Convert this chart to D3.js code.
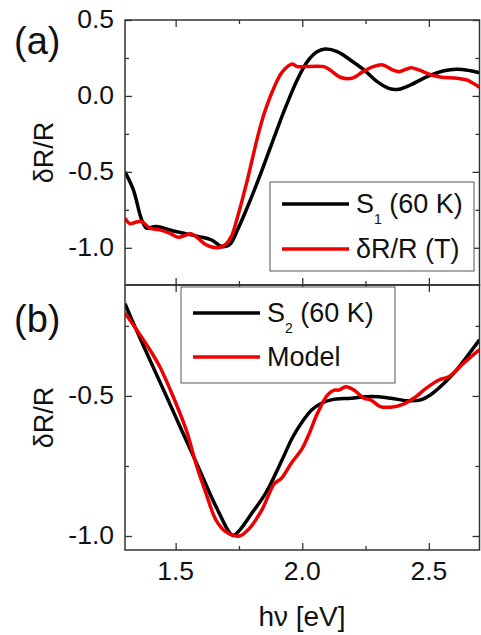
<!DOCTYPE html>
<html>
<head>
<meta charset="utf-8">
<script src="https://cdn.jsdelivr.net/npm/d3@7"></script>
<style>
  body { margin: 0; background: #fff; }
  text { font-family: "Liberation Sans", Arial, sans-serif; fill: #111; }
</style>
</head>
<body>
<svg width="481" height="635"></svg>
<script>
// panel (a): S1 at 60 K and the temperature dR/R
const s1Energy = [1.3, 1.333, 1.366, 1.385, 1.423, 1.5, 1.588, 1.64, 1.679, 1.699, 1.718, 1.745, 1.784, 1.837, 1.89, 1.93, 1.98, 2.02, 2.06, 2.092, 2.138, 2.19, 2.244, 2.296, 2.342, 2.381, 2.427, 2.493, 2.56, 2.61, 2.664, 2.7];
const s1Values = [-0.5, -0.618, -0.816, -0.87, -0.86, -0.893, -0.925, -0.947, -0.99, -0.99, -0.97, -0.88, -0.73, -0.507, -0.268, -0.092, 0.105, 0.226, 0.292, 0.309, 0.292, 0.237, 0.171, 0.094, 0.05, 0.044, 0.072, 0.127, 0.166, 0.176, 0.166, 0.153];

const tEnergy = [1.3, 1.32, 1.345, 1.366, 1.398, 1.437, 1.476, 1.51, 1.535, 1.56, 1.587, 1.62, 1.664, 1.696, 1.72, 1.745, 1.785, 1.824, 1.85, 1.89, 1.922, 1.961, 1.98, 2.007, 2.085, 2.11, 2.15, 2.195, 2.24, 2.28, 2.318, 2.357, 2.383, 2.43, 2.46, 2.51, 2.55, 2.61, 2.65, 2.675, 2.7];
const tValues = [-0.805, -0.842, -0.83, -0.827, -0.87, -0.882, -0.904, -0.93, -0.92, -0.908, -0.935, -0.98, -1.0, -0.98, -0.925, -0.794, -0.541, -0.268, -0.114, 0.061, 0.16, 0.21, 0.193, 0.193, 0.193, 0.171, 0.123, 0.116, 0.16, 0.193, 0.204, 0.171, 0.16, 0.186, 0.171, 0.138, 0.123, 0.116, 0.105, 0.083, 0.057];

// panel (b): S2 at 60 K and the model
const s2Energy = [1.3, 1.333, 1.398, 1.464, 1.529, 1.595, 1.66, 1.726, 1.752, 1.8, 1.855, 1.92, 1.96, 2.0, 2.037, 2.076, 2.115, 2.194, 2.273, 2.35, 2.415, 2.468, 2.507, 2.56, 2.61, 2.65, 2.7];
const s2Values = [-0.171, -0.24, -0.371, -0.502, -0.633, -0.765, -0.896, -0.998, -0.98, -0.92, -0.848, -0.729, -0.651, -0.592, -0.55, -0.526, -0.514, -0.508, -0.502, -0.508, -0.517, -0.514, -0.496, -0.455, -0.407, -0.36, -0.3];

const modelEnergy = [1.3, 1.346, 1.398, 1.437, 1.49, 1.542, 1.58, 1.62, 1.66, 1.7, 1.752, 1.79, 1.84, 1.89, 1.917, 1.956, 2.0, 2.028, 2.06, 2.1, 2.126, 2.145, 2.172, 2.204, 2.243, 2.27, 2.308, 2.35, 2.4, 2.45, 2.49, 2.54, 2.58, 2.63, 2.7];
const modelValues = [-0.204, -0.264, -0.335, -0.395, -0.502, -0.622, -0.741, -0.848, -0.944, -0.986, -1.0, -0.974, -0.908, -0.813, -0.795, -0.741, -0.687, -0.633, -0.562, -0.496, -0.479, -0.479, -0.467, -0.479, -0.508, -0.514, -0.538, -0.54, -0.529, -0.502, -0.472, -0.443, -0.431, -0.389, -0.335];

const xMajor = [1.5, 2.0, 2.5];
const xMinor = [1.75, 2.25];
const yMajorA = [0.5, 0.0, -0.5, -1.0];
const yMinorA = [0.25, -0.25, -0.75];
const yMajorB = [-0.5, -1.0];
const yMinorB = [-0.25, -0.75];

const svg = d3.select("svg");
const left = 125, right = 479.5;
const red = "#ee0000";

const x = d3.scaleLinear().domain([1.3, 2.7]).range([left, right]);

const panels = [
  { top: 20, bottom: 285, domain: [-1.245, 0.5], yMajor: yMajorA, yMinor: yMinorA, label: "(a)", labelY: 54, series: [
      { xs: s1Energy, ys: s1Values, color: "#000" },
      { xs: tEnergy, ys: tValues, color: red }] },
  { top: 285, bottom: 550, domain: [-1.05, -0.104], yMajor: yMajorB, yMinor: yMinorB, label: "(b)", labelY: 332, series: [
      { xs: s2Energy, ys: s2Values, color: "#000" },
      { xs: modelEnergy, ys: modelValues, color: red }] }
];

const fmt = d => d.toFixed(1);

panels.forEach(function(p, i) {
  const y = d3.scaleLinear().domain(p.domain).range([p.bottom, p.top]);
  const g = svg.append("g");

  g.append("clipPath").attr("id", "clip" + i)
    .append("rect").attr("x", left).attr("y", p.top).attr("width", right - left).attr("height", p.bottom - p.top);

  // curves
  const line = d3.line()
    .x(d => x(d[0])).y(d => y(d[1]))
    .curve(d3.curveCatmullRom.alpha(0.5));
  p.series.forEach(function(s) {
    g.append("path")
      .attr("clip-path", "url(#clip" + i + ")")
      .attr("d", line(d3.zip(s.xs, s.ys)))
      .attr("fill", "none")
      .attr("stroke", s.color)
      .attr("stroke-width", 3.5)
      .attr("stroke-linejoin", "round");
  });

  // ticks on all four sides, pointing in
  const axes = [
    [d3.axisLeft(y), "translate(" + left + ",0)", p.yMajor, p.yMinor],
    [d3.axisRight(y), "translate(" + right + ",0)", p.yMajor, p.yMinor],
    [d3.axisTop(x), "translate(0," + p.top + ")", xMajor, xMinor],
    [d3.axisBottom(x), "translate(0," + p.bottom + ")", xMajor, xMinor]
  ];
  axes.forEach(function(a) {
    const gm = g.append("g").attr("transform", a[1])
      .call(a[0].tickValues(a[2].concat(a[3])).tickSizeOuter(0)
        .tickSizeInner(-6).tickFormat(""));
    gm.select(".domain").remove();
    gm.selectAll(".tick line").attr("stroke", "#333").attr("stroke-width", 1.3)
      .each(function(d) {
        const len = a[3].includes(d) ? 4 : 7;
        const sel = d3.select(this);
        const attr = sel.attr("x2") !== null ? "x2" : "y2";
        sel.attr(attr, (+sel.attr(attr) < 0 ? -1 : 1) * len);
      });
  });

  // frame
  g.append("rect")
    .attr("x", left).attr("y", p.top)
    .attr("width", right - left).attr("height", p.bottom - p.top)
    .attr("fill", "none").attr("stroke", "#333").attr("stroke-width", 1.5);

  // y tick labels
  g.selectAll(".ylab").data(p.yMajor).enter().append("text")
    .attr("x", left - 11).attr("y", d => y(d))
    .attr("dy", "0.32em")
    .attr("text-anchor", "end")
    .style("font-size", "26.5px")
    .text(fmt);

  // y axis title
  g.append("text")
    .attr("transform", "translate(53," + ((p.top + p.bottom) / 2) + ") rotate(-90)")
    .attr("text-anchor", "middle")
    .style("font-size", "27px")
    .text("δR/R");

  // panel letter
  g.append("text").attr("x", 14).attr("y", p.labelY)
    .style("font-size", "38px").text(p.label);
});

// x tick labels and title, under panel (b)
svg.selectAll(".xlab").data(xMajor).enter().append("text")
  .attr("x", d => x(d)).attr("y", 580)
  .attr("text-anchor", "middle")
  .style("font-size", "26.5px")
  .text(fmt);

svg.append("text").attr("x", 302).attr("y", 626)
  .attr("text-anchor", "middle").style("font-size", "28px")
  .text("hν [eV]");

// legends
function legend(box, rows) {
  const lg = svg.append("g");
  lg.append("rect").attr("x", box[0]).attr("y", box[1]).attr("width", box[2]).attr("height", box[3])
    .attr("fill", "#fff").attr("stroke", "#555").attr("stroke-width", 1);
  rows.forEach(function(r) {
    lg.append("line").attr("x1", box[0] + 12).attr("x2", box[0] + 79)
      .attr("y1", r.y).attr("y2", r.y)
      .attr("stroke", r.color).attr("stroke-width", 3.5);
    const t = lg.append("text").attr("x", box[0] + 86).attr("y", r.y + 9)
      .style("font-size", "27px");
    if (r.sub) {
      t.append("tspan").text("S");
      t.append("tspan").attr("dy", 11).style("font-size", "14px").text(r.sub);
      t.append("tspan").attr("dy", -11).text(" (60 K)");
    } else {
      t.text(r.text);
    }
  });
}

legend([270, 182, 204, 89], [
  { y: 204, color: "#000", sub: "1" },
  { y: 249, color: red, text: "δR/R (T)" }
]);
legend([181, 287, 214, 96], [
  { y: 313, color: "#000", sub: "2" },
  { y: 357, color: red, text: "Model" }
]);
</script>
</body>
</html>
